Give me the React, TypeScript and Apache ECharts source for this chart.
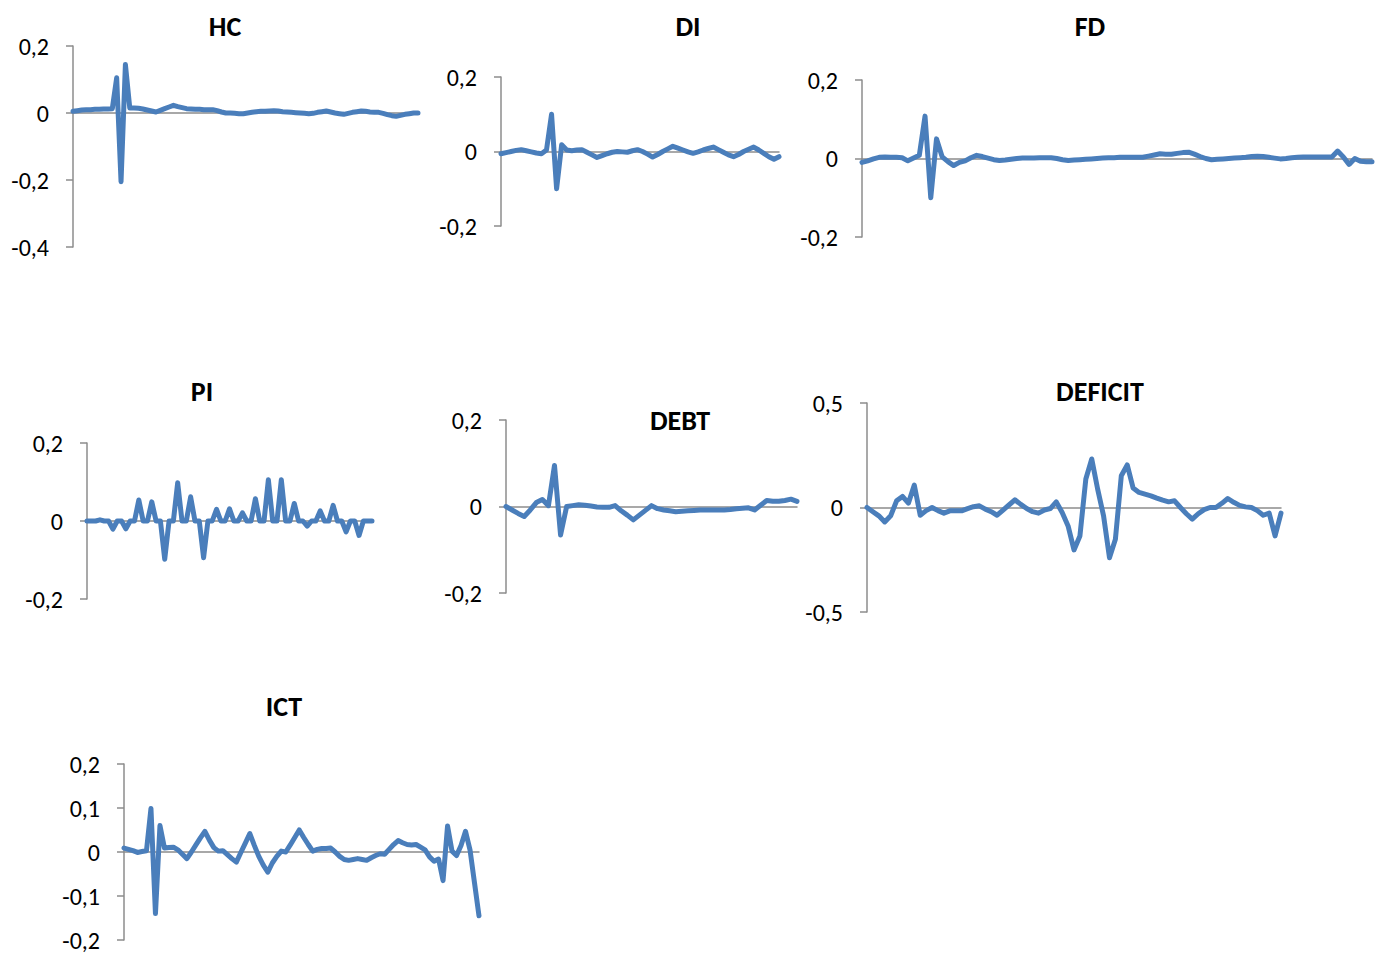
import React, { useEffect, useRef } from "react";
import * as echarts from "echarts";

// ---- Data ----
const HC = [
  0.005, 0.007, 0.009, 0.01, 0.01, 0.011, 0.011, 0.012, 0.012, 0.013,
  0.105, -0.205, 0.145, 0.015, 0.015, 0.014, 0.012, 0.009, 0.006, 0.003,
  0.008, 0.013, 0.018, 0.023, 0.019, 0.016, 0.013, 0.012, 0.011, 0.011,
  0.01, 0.01, 0.01, 0.007, 0.003, 0.0, 0.0, -0.001, -0.002, -0.002,
  0.0, 0.002, 0.004, 0.005, 0.005, 0.006, 0.007, 0.006, 0.004, 0.003,
  0.002, 0.001, 0.0, -0.001, -0.002, -0.001, 0.002, 0.004, 0.006, 0.003,
  0.0, -0.002, -0.004, -0.001, 0.002, 0.004, 0.006, 0.005, 0.003, 0.002,
  0.002, -0.001, -0.005, -0.008, -0.01, -0.007, -0.004, -0.002, 0.0, 0.0,
];

const DI = [
  -0.006, -0.003, 0.0, 0.003, 0.005, 0.002, -0.001, -0.004, -0.006, 0.004,
  0.1, -0.1, 0.018, 0.004, 0.002, 0.004, 0.005, -0.002, -0.009, -0.016,
  -0.011, -0.006, -0.002, 0.0, -0.001, -0.002, 0.002, 0.005, 0.0, -0.007,
  -0.015, -0.008, 0.0, 0.007, 0.014, 0.009, 0.004, -0.001, -0.005, -0.001,
  0.004, 0.008, 0.012, 0.005, -0.002, -0.009, -0.014, -0.008, 0.0, 0.006,
  0.012, 0.004, -0.005, -0.014, -0.021, -0.014,
];

const FD = [
  -0.01, -0.006, -0.001, 0.003, 0.004, 0.003, 0.003, 0.002, -0.006, 0.001,
  0.008, 0.108, -0.1, 0.05, 0.004, -0.008, -0.018, -0.01, -0.006, 0.002,
  0.008, 0.005, 0.001, -0.003, -0.005, -0.004, -0.002, 0.0, 0.001, 0.001,
  0.001, 0.002, 0.002, 0.002, 0.0, -0.003, -0.005, -0.004, -0.003, -0.002,
  -0.001, 0.0, 0.001, 0.002, 0.002, 0.003, 0.003, 0.003, 0.003, 0.003,
  0.006, 0.009, 0.012, 0.011, 0.011, 0.013, 0.015, 0.016, 0.011, 0.005,
  0.0, -0.003, -0.002, -0.001, 0.0, 0.001, 0.002, 0.003, 0.005, 0.006,
  0.005, 0.003, 0.001, -0.001, 0.0, 0.002, 0.003, 0.004, 0.004, 0.004,
  0.004, 0.004, 0.004, 0.019, 0.004, -0.015, 0.0, -0.007, -0.008, -0.008,
];

const PI = [
  0, 0, 0, 0.003, 0, 0, -0.021, 0, 0, -0.02,
  0, 0, 0.054, 0, 0, 0.049, 0, 0, -0.098, 0,
  0, 0.098, 0, 0, 0.062, 0, 0, -0.094, 0, 0,
  0.03, 0, 0, 0.031, 0, 0, 0.021, 0, 0, 0.057,
  0, 0, 0.106, 0, 0, 0.106, 0, 0, 0.045, 0,
  0, -0.013, 0, 0, 0.026, 0, 0, 0.04, 0, 0,
  -0.028, 0, 0, -0.037, 0, 0, 0,
];

const DEBT = [
  0.0, -0.008, -0.016, -0.023, -0.008, 0.009, 0.016, 0.002, 0.095, -0.066,
  0.0, 0.002, 0.004, 0.003, 0.001, -0.001, -0.002, -0.002, 0.002, -0.01,
  -0.02, -0.031, -0.02, -0.009, 0.002, -0.005, -0.008, -0.01, -0.012, -0.011,
  -0.01, -0.009, -0.008, -0.008, -0.008, -0.008, -0.008, -0.007, -0.005, -0.004,
  -0.003, -0.008, 0.003, 0.014, 0.012, 0.012, 0.014, 0.017, 0.012,
];

const DEFICIT = [
  0.0, -0.02, -0.04, -0.069, -0.04, 0.032, 0.053, 0.021, 0.107, -0.037,
  -0.015, 0.0, -0.015, -0.027, -0.016, -0.016, -0.016, -0.005, 0.004, 0.008,
  -0.008, -0.02, -0.037, -0.012, 0.012, 0.037, 0.015, -0.005, -0.02, -0.027,
  -0.012, -0.005, 0.027, -0.024, -0.088, -0.203, -0.136, 0.136, 0.232, 0.088,
  -0.04, -0.24, -0.152, 0.152, 0.204, 0.093, 0.072, 0.064, 0.056, 0.045,
  0.035, 0.027, 0.032, 0.0, -0.03, -0.056, -0.03, -0.01, 0.0, 0.0,
  0.02, 0.043, 0.025, 0.01, 0.003, 0.0, -0.015, -0.037, -0.027, -0.136,
  -0.027,
];

const ICT = [
  0.009, 0.006, 0.003, -0.001, 0.001, 0.003, 0.099, -0.14, 0.06, 0.009,
  0.01, 0.011, 0.005, -0.005, -0.015, 0.0, 0.016, 0.032, 0.047, 0.027,
  0.01, 0.002, 0.003, -0.006, -0.015, -0.023, -0.001, 0.02, 0.042, 0.015,
  -0.01, -0.03, -0.046, -0.025, -0.01, 0.002, 0.0, 0.016, 0.033, 0.05,
  0.033, 0.017, 0.002, 0.006, 0.008, 0.008, 0.009, 0.0, -0.01, -0.017,
  -0.019, -0.017, -0.015, -0.017, -0.019, -0.013, -0.008, -0.004, -0.005, 0.006,
  0.017, 0.026, 0.021, 0.017, 0.016, 0.017, 0.011, 0.005, -0.011, -0.021,
  -0.016, -0.065, 0.059, 0.002, -0.008, 0.015, 0.047, 0.005, -0.07, -0.145,
];

const TITLES = ["HC", "DI", "FD", "PI", "DEBT", "DEFICIT", "ICT"];
const SERIES = [HC, DI, FD, PI, DEBT, DEFICIT, ICT];
const Y_MIN = [-0.4, -0.2, -0.2, -0.2, -0.2, -0.5, -0.2];
const Y_MAX = [0.2, 0.2, 0.2, 0.2, 0.2, 0.5, 0.2];
const Y_STEP = [0.2, 0.2, 0.2, 0.2, 0.2, 0.5, 0.1];

// ---- Layout (pixel positions of each panel) ----
const LAYOUT = [
  { left: 73, top: 46, width: 345, height: 201, tx: 225, ty: 26 },
  { left: 501, top: 77, width: 278, height: 149, tx: 688, ty: 26 },
  { left: 862, top: 80, width: 510, height: 157, tx: 1090, ty: 26 },
  { left: 87, top: 443, width: 285, height: 156, tx: 202, ty: 391 },
  { left: 506, top: 420, width: 291, height: 173, tx: 680, ty: 420 },
  { left: 867, top: 403, width: 414, height: 209, tx: 1100, ty: 391 },
  { left: 124, top: 764, width: 355, height: 176, tx: 284, ty: 706 },
];

const AXIS_GRAY = "#8c8c8c";
const LINE_BLUE = "#4a7ebb";
const FONT = "Carlito, Calibri, 'Open Sans', sans-serif";

export default function App() {
  const ref = useRef<HTMLDivElement>(null);

  useEffect(() => {
    if (!ref.current) return;
    const chart = echarts.init(ref.current, undefined, { renderer: "svg" });

    const grid = LAYOUT.map((l) => ({
      left: l.left,
      top: l.top,
      width: l.width,
      height: l.height,
      containLabel: false,
    }));

    const xAxis = SERIES.map((s, i) => ({
      type: "category",
      gridIndex: i,
      data: s.map((_, k) => String(k + 1)),
      boundaryGap: false,
      axisLine: { show: true, onZero: true, lineStyle: { color: AXIS_GRAY, width: 1.5 } },
      axisTick: { show: false },
      axisLabel: { show: false },
      splitLine: { show: false },
    }));

    const yAxis = SERIES.map((_, i) => ({
      type: "value",
      gridIndex: i,
      min: Y_MIN[i],
      max: Y_MAX[i],
      interval: Y_STEP[i],
      axisLine: { show: true, lineStyle: { color: AXIS_GRAY, width: 1.5 } },
      axisTick: { show: true, inside: false, length: 7, lineStyle: { color: AXIS_GRAY, width: 1.5 } },
      splitLine: { show: false },
      axisLabel: {
        margin: 24,
        color: "#000",
        fontSize: 24,
        fontFamily: FONT,
        formatter: (v: number) => {
          const r = Math.round(v * 10) / 10;
          return String(r).replace(".", ",");
        },
      },
    }));

    const series = SERIES.map((s, i) => ({
      type: "line",
      name: TITLES[i],
      xAxisIndex: i,
      yAxisIndex: i,
      data: s,
      showSymbol: false,
      symbol: "none",
      lineStyle: { color: LINE_BLUE, width: 5, join: "round", cap: "round" },
      z: 3,
    }));

    const graphic = LAYOUT.map((l, i) => ({
      type: "text",
      x: l.tx,
      y: l.ty,
      style: {
        text: TITLES[i],
        fill: "#000",
        font: `bold 28px ${FONT}`,
        textAlign: "center",
        textVerticalAlign: "middle",
      },
    }));

    chart.setOption({
      animation: false,
      backgroundColor: "#ffffff",
      grid,
      xAxis,
      yAxis,
      series,
      graphic,
    } as any);

    return () => chart.dispose();
  }, []);

  return (
    <div
      ref={ref}
      style={{ position: "absolute", left: 0, top: 0, width: 1386, height: 956, background: "#fff" }}
    />
  );
}
